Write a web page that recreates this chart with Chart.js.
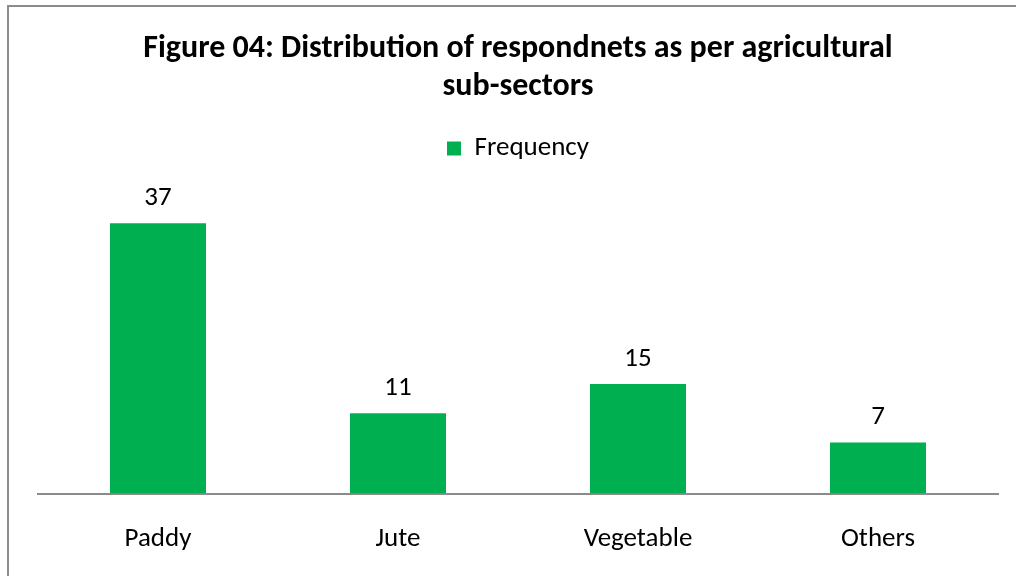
<!DOCTYPE html>
<html>
<head>
<meta charset="utf-8">
<script src="https://cdn.jsdelivr.net/npm/chart.js@4"></script>
<style>
  html, body { margin: 0; padding: 0; background: #fff; overflow: hidden; }
  #frame { position: absolute; left: 7px; top: 5px; width: 1100px; height: 700px;
           border-left: 2px solid #8c8c8c; border-top: 2px solid #8c8c8c; }
  #wrap { position: absolute; left: 0; top: 0; width: 1016px; height: 576px; }
</style>
</head>
<body>
<div id="frame"></div>
<div id="wrap"><canvas id="chBar"></canvas></div>
<script>
// Data
const categories = ["Paddy", "Jute", "Vegetable", "Others"];
const frequency = [37, 11, 15, 7];
const titleLines = ["Figure 04: Distribution of respondnets as per agricultural", "sub-sectors"];

const FONT = "Carlito, Lato, 'Liberation Sans', sans-serif";
const GREEN = "#00b050";

// draw the value above each bar
const valueLabels = {
  id: "valueLabels",
  afterDatasetsDraw(chart) {
    const ctx = chart.ctx;
    ctx.save();
    ctx.font = "27px " + FONT;
    ctx.fillStyle = "#000";
    ctx.textAlign = "center";
    ctx.textBaseline = "middle";
    chart.getDatasetMeta(0).data.forEach(function (bar, i) {
      ctx.fillText(String(frequency[i]), bar.x, bar.y - 25);
    });
    ctx.restore();
  }
};

const data = {
  labels: categories,
  datasets: [
    {
      label: "Frequency",
      backgroundColor: GREEN,
      borderColor: GREEN,
      data: frequency,
      barPercentage: 0.4,
      categoryPercentage: 1.0,
    },
  ],
};

const config = {
  type: "bar",
  data: data,
  plugins: [valueLabels],
  options: {
    responsive: false,
    animation: false,
    layout: { padding: { left: 38, right: 18, top: 0, bottom: 0 } },
    plugins: {
      title: {
        display: true,
        text: titleLines,
        color: "#000",
        font: { family: FONT, size: 32, weight: "bold", lineHeight: 1.1875 },
        padding: { top: 30, bottom: 0 },
      },
      legend: {
        display: true,
        labels: {
          color: "#000",
          font: { family: FONT, size: 27 },
          boxWidth: 14,
          boxHeight: 14,
          padding: 29,
        },
      },
      tooltip: { enabled: false },
    },
    scales: {
      x: {
        grid: { display: false },
        border: { display: true, color: "#8c8c8c", width: 2 },
        ticks: { color: "#000", font: { family: FONT, size: 27 }, padding: 21 },
      },
      y: {
        display: false,
        min: 0,
        max: 44, // hidden axis; leaves the empty band under the legend
      },
    },
  },
};

const cv = document.getElementById("chBar");
cv.width = 1016;
cv.height = 576;
var myChart = new Chart(cv, config);
</script>
</body>
</html>
